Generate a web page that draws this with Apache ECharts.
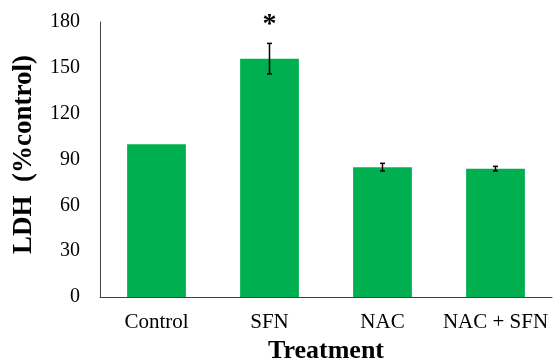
<!DOCTYPE html>
<html><head><meta charset="utf-8">
<script src="https://cdn.jsdelivr.net/npm/echarts@6/dist/echarts.min.js"></script>
<style>html,body{margin:0;padding:0;background:#fff}#c{width:557px;height:358px}</style>
</head><body><div id="c"></div>
<script>
const categories = ['Control', 'SFN', 'NAC', 'NAC + SFN'];
const values = [100, 156, 85, 84];
const errors = [0, 10, 2.5, 1.5];
const marks = ['', '*', '', ''];
const yTicks = [0, 30, 60, 90, 120, 150, 180];

const chart = echarts.init(document.getElementById('c'));
const serif = '"Liberation Serif", "Times New Roman", serif';
chart.setOption({
  animation: false,
  grid: { left: 100, right: 5, top: 22, bottom: 61, outerBoundsMode: 'none', containLabel: false },
  xAxis: {
    type: 'category', data: categories,
    axisLine: { lineStyle: { color: '#404040', width: 1 } },
    axisTick: { show: false },
    axisLabel: { color: '#000', fontFamily: serif, fontSize: 21, margin: 15, interval: 0, hideOverlap: false },
    name: 'Treatment', nameLocation: 'middle', nameGap: 34,
    nameTextStyle: { color: '#000', fontFamily: serif, fontSize: 26, fontWeight: 'bold' }
  },
  yAxis: {
    type: 'value', min: yTicks[0], max: yTicks[yTicks.length - 1], interval: 30,
    axisLine: { show: true, lineStyle: { color: '#404040', width: 1 } },
    axisTick: { show: false },
    splitLine: { show: false },
    axisLabel: { color: '#000', fontFamily: serif, fontSize: 20, margin: 20 },
    name: 'LDH  (%control)', nameLocation: 'middle', nameGap: 62,
    nameTextStyle: { color: '#000', fontFamily: serif, fontSize: 27, fontWeight: 'bold', padding: [0, 0, 0, 10] }
  },
  series: [
    {
      type: 'bar', data: values, barWidth: '52%',
      itemStyle: { color: '#00B050' }
    },
    {
      type: 'custom',
      data: values.map((v, i) => [i, v, errors[i]]),
      renderItem: function (params, api) {
        const i = api.value(0), v = api.value(1), e = api.value(2);
        const star = marks[i];
        const children = [];
        const top = api.coord([i, v + e]);
        const bot = api.coord([i, v - e]);
        const cw = 2.5;
        if (e > 0) {
          const st = { stroke: '#000', lineWidth: 1.5 };
          children.push({ type: 'line', shape: { x1: top[0], y1: top[1], x2: bot[0], y2: bot[1] }, style: st });
          children.push({ type: 'line', shape: { x1: top[0] - cw, y1: top[1], x2: top[0] + cw, y2: top[1] }, style: st });
          children.push({ type: 'line', shape: { x1: bot[0] - cw, y1: bot[1], x2: bot[0] + cw, y2: bot[1] }, style: st });
        }
        if (star) {
          children.push({ type: 'text', style: { text: star, x: top[0], y: top[1] - 5, textAlign: 'center', textVerticalAlign: 'bottom', font: 'bold 28px ' + serif, fill: '#000' } });
        }
        return { type: 'group', children: children };
      },
      z: 10
    }
  ]
});
</script></body></html>
